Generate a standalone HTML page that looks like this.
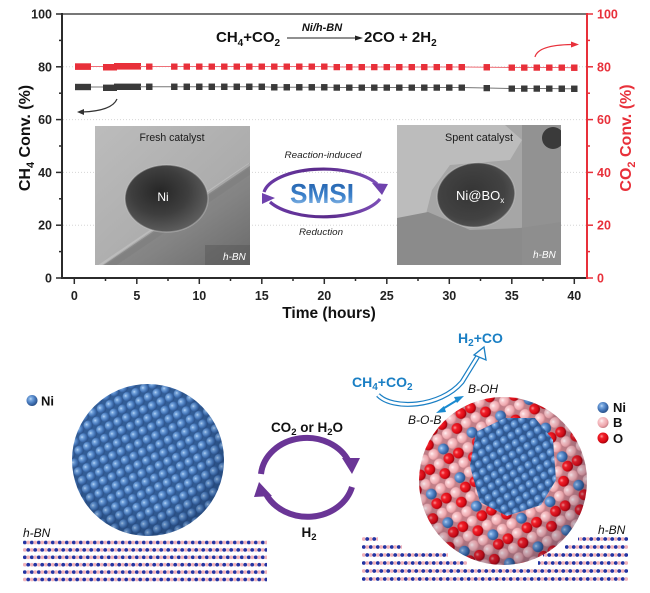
<!DOCTYPE html>
<html><head><meta charset="utf-8">
<style>
html,body{margin:0;padding:0;background:#fff;}
svg{display:block;font-family:"Liberation Sans",Arial,sans-serif;}
</style></head>
<body>
<svg width="650" height="593" viewBox="0 0 650 593" xmlns="http://www.w3.org/2000/svg">
<defs>
  <marker id="mR" markerWidth="6.5" markerHeight="6.5" refX="3.25" refY="3.25" markerUnits="userSpaceOnUse"><rect width="6.5" height="6.5" fill="#e8303a"/></marker>
  <marker id="mK" markerWidth="6.5" markerHeight="6.5" refX="3.25" refY="3.25" markerUnits="userSpaceOnUse"><rect width="6.5" height="6.5" fill="#3a3a3a"/></marker>
  <linearGradient id="tL" x1="0" y1="0" x2="1" y2="1"><stop offset="0" stop-color="#bcbcbc"/><stop offset="1" stop-color="#a2a2a2"/></linearGradient>
  <linearGradient id="supL" x1="0" y1="0" x2="1" y2="1"><stop offset="0" stop-color="#9a9a9a"/><stop offset="0.6" stop-color="#848484"/><stop offset="1" stop-color="#686868"/></linearGradient>
  <radialGradient id="pL" cx="0.42" cy="0.4" r="0.62"><stop offset="0" stop-color="#262626"/><stop offset="0.55" stop-color="#3e3e3e"/><stop offset="1" stop-color="#5e5e5e"/></radialGradient>
  <radialGradient id="pR" cx="0.45" cy="0.45" r="0.6"><stop offset="0" stop-color="#353535"/><stop offset="0.7" stop-color="#424242"/><stop offset="1" stop-color="#565656"/></radialGradient>
  <linearGradient id="smsi" x1="0" y1="0" x2="0" y2="1"><stop offset="0" stop-color="#1d5aa6"/><stop offset="0.6" stop-color="#3f84cc"/><stop offset="1" stop-color="#a9cdf0"/></linearGradient>
  <linearGradient id="purp" x1="0" y1="0" x2="1" y2="0"><stop offset="0" stop-color="#6a3aa5"/><stop offset="0.5" stop-color="#5a2a8a"/><stop offset="1" stop-color="#7d4fb8"/></linearGradient>
  <radialGradient id="gNi" cx="0.38" cy="0.35" r="0.65"><stop offset="0" stop-color="#c4ddf8"/><stop offset="0.22" stop-color="#7aa9e0"/><stop offset="0.62" stop-color="#4678bb"/><stop offset="1" stop-color="#2b5189"/></radialGradient>
  <radialGradient id="gP" cx="0.38" cy="0.35" r="0.65"><stop offset="0" stop-color="#fff4f5"/><stop offset="0.3" stop-color="#f8c8cc"/><stop offset="0.75" stop-color="#eea7ad"/><stop offset="1" stop-color="#c98088"/></radialGradient>
  <radialGradient id="gR" cx="0.38" cy="0.35" r="0.65"><stop offset="0" stop-color="#ff9a9a"/><stop offset="0.3" stop-color="#f0202a"/><stop offset="0.75" stop-color="#dc0a14"/><stop offset="1" stop-color="#a0000c"/></radialGradient>
  <radialGradient id="shade" cx="0.45" cy="0.42" r="0.58"><stop offset="0.7" stop-color="#001030" stop-opacity="0"/><stop offset="1" stop-color="#001030" stop-opacity="0.25"/></radialGradient>
  <pattern id="patNi" patternUnits="userSpaceOnUse" width="9.5" height="9.5" patternTransform="rotate(-25)">
    <rect width="9.5" height="9.5" fill="#325d96"/><circle cx="4.75" cy="4.75" r="4.7" fill="url(#gNi)"/>
  </pattern>
  <pattern id="patNi2" patternUnits="userSpaceOnUse" width="8.5" height="8.5" patternTransform="rotate(-30)">
    <rect width="8.5" height="8.5" fill="#2f5890"/><circle cx="4.25" cy="4.25" r="4.2" fill="url(#gNi)"/>
  </pattern>
  <pattern id="patMix" patternUnits="userSpaceOnUse" width="33" height="33" patternTransform="rotate(-30)">
    <rect width="33" height="33" fill="#c27f88"/>
    <circle cx="5.5" cy="5.5" r="5.4" fill="url(#gP)"/><circle cx="16.5" cy="5.5" r="5.4" fill="url(#gR)"/><circle cx="27.5" cy="5.5" r="5.4" fill="url(#gP)"/>
    <circle cx="5.5" cy="16.5" r="5.4" fill="url(#gP)"/><circle cx="16.5" cy="16.5" r="5.4" fill="url(#gP)"/><circle cx="27.5" cy="16.5" r="5.4" fill="url(#gNi)"/>
    <circle cx="5.5" cy="27.5" r="5.4" fill="url(#gR)"/><circle cx="16.5" cy="27.5" r="5.4" fill="url(#gP)"/><circle cx="27.5" cy="27.5" r="5.4" fill="url(#gR)"/>
  </pattern>
  <pattern id="bnL" patternUnits="userSpaceOnUse" x="23" y="538.8" width="7" height="14.8">
    <line x1="0" y1="3.7" x2="7" y2="3.7" stroke="#2a3f9a" stroke-width="1.1"/>
    <circle cx="1.75" cy="3.7" r="1.9" fill="#2334a2"/><circle cx="5.25" cy="3.7" r="1.9" fill="#f0b2ba"/>
    <line x1="0" y1="11.1" x2="7" y2="11.1" stroke="#2a3f9a" stroke-width="1.1"/>
    <circle cx="1.75" cy="11.1" r="1.9" fill="#f0b2ba"/><circle cx="5.25" cy="11.1" r="1.9" fill="#2334a2"/>
  </pattern>
  <pattern id="bnR" patternUnits="userSpaceOnUse" x="362" y="535" width="7" height="16">
    <line x1="0" y1="4" x2="7" y2="4" stroke="#2a3f9a" stroke-width="1.1"/>
    <circle cx="1.75" cy="4" r="1.9" fill="#f0b2ba"/><circle cx="5.25" cy="4" r="1.9" fill="#2334a2"/>
    <line x1="0" y1="12" x2="7" y2="12" stroke="#2a3f9a" stroke-width="1.1"/>
    <circle cx="1.75" cy="12" r="1.9" fill="#2334a2"/><circle cx="5.25" cy="12" r="1.9" fill="#f0b2ba"/>
  </pattern>
  <clipPath id="clipL"><rect x="95" y="126" width="155" height="139"/></clipPath>
  <clipPath id="clipR"><rect x="397" y="125" width="164" height="140"/></clipPath>
  <clipPath id="cNi"><circle cx="148" cy="460" r="76"/></clipPath>
  <clipPath id="cMix"><circle cx="503" cy="481" r="84"/></clipPath>
</defs>

<!-- ===== Chart ===== -->
<g stroke="#d6d6d6" stroke-width="1" stroke-dasharray="1,2">
  <line x1="63" y1="66.8" x2="586" y2="66.8"/>
  <line x1="63" y1="119.6" x2="586" y2="119.6"/>
  <line x1="63" y1="172.4" x2="586" y2="172.4"/>
  <line x1="63" y1="225.2" x2="586" y2="225.2"/>
</g>
<line x1="62" y1="14" x2="587" y2="14" stroke="#4a4a4a" stroke-width="1.5"/>
<line x1="62" y1="13" x2="62" y2="279" stroke="#2b2b2b" stroke-width="2"/>
<line x1="61" y1="278" x2="587" y2="278" stroke="#2b2b2b" stroke-width="2"/>
<line x1="587" y1="13" x2="587" y2="279" stroke="#e8303a" stroke-width="2"/>
<g stroke="#2b2b2b" stroke-width="1.5">
  <line x1="56" y1="14" x2="62" y2="14"/><line x1="56" y1="66.8" x2="62" y2="66.8"/><line x1="56" y1="119.6" x2="62" y2="119.6"/>
  <line x1="56" y1="172.4" x2="62" y2="172.4"/><line x1="56" y1="225.2" x2="62" y2="225.2"/><line x1="56" y1="278" x2="62" y2="278"/>
  <line x1="59" y1="40.4" x2="62" y2="40.4"/><line x1="59" y1="93.2" x2="62" y2="93.2"/><line x1="59" y1="146" x2="62" y2="146"/>
  <line x1="59" y1="198.8" x2="62" y2="198.8"/><line x1="59" y1="251.6" x2="62" y2="251.6"/>
</g>
<g stroke="#e8303a" stroke-width="1.5">
  <line x1="587" y1="14" x2="593" y2="14"/><line x1="587" y1="66.8" x2="593" y2="66.8"/><line x1="587" y1="119.6" x2="593" y2="119.6"/>
  <line x1="587" y1="172.4" x2="593" y2="172.4"/><line x1="587" y1="225.2" x2="593" y2="225.2"/><line x1="587" y1="278" x2="593" y2="278"/>
  <line x1="587" y1="40.4" x2="590" y2="40.4"/><line x1="587" y1="93.2" x2="590" y2="93.2"/><line x1="587" y1="146" x2="590" y2="146"/>
  <line x1="587" y1="198.8" x2="590" y2="198.8"/><line x1="587" y1="251.6" x2="590" y2="251.6"/>
</g>
<g stroke="#2b2b2b" stroke-width="1.5">
  <line x1="74.3" y1="278" x2="74.3" y2="284"/><line x1="136.8" y1="278" x2="136.8" y2="284"/><line x1="199.3" y1="278" x2="199.3" y2="284"/>
  <line x1="261.8" y1="278" x2="261.8" y2="284"/><line x1="324.3" y1="278" x2="324.3" y2="284"/><line x1="386.8" y1="278" x2="386.8" y2="284"/>
  <line x1="449.3" y1="278" x2="449.3" y2="284"/><line x1="511.8" y1="278" x2="511.8" y2="284"/><line x1="574.3" y1="278" x2="574.3" y2="284"/>
  <line x1="105.5" y1="278" x2="105.5" y2="281"/><line x1="168" y1="278" x2="168" y2="281"/><line x1="230.5" y1="278" x2="230.5" y2="281"/>
  <line x1="293" y1="278" x2="293" y2="281"/><line x1="355.5" y1="278" x2="355.5" y2="281"/><line x1="418" y1="278" x2="418" y2="281"/>
  <line x1="480.5" y1="278" x2="480.5" y2="281"/><line x1="543" y1="278" x2="543" y2="281"/>
</g>
<g font-size="12.5" font-weight="bold" fill="#222" text-anchor="end">
  <text x="52" y="18.5">100</text><text x="52" y="71.3">80</text><text x="52" y="124.1">60</text>
  <text x="52" y="176.9">40</text><text x="52" y="229.7">20</text><text x="52" y="282.5">0</text>
</g>
<g font-size="12.5" font-weight="bold" fill="#e8303a">
  <text x="597" y="18.5">100</text><text x="597" y="71.3">80</text><text x="597" y="124.1">60</text>
  <text x="597" y="176.9">40</text><text x="597" y="229.7">20</text><text x="597" y="282.5">0</text>
</g>
<g font-size="12.5" font-weight="bold" fill="#222" text-anchor="middle">
  <text x="74.3" y="300">0</text><text x="136.8" y="300">5</text><text x="199.3" y="300">10</text>
  <text x="261.8" y="300">15</text><text x="324.3" y="300">20</text><text x="386.8" y="300">25</text>
  <text x="449.3" y="300">30</text><text x="511.8" y="300">35</text><text x="574.3" y="300">40</text>
</g>
<text x="329" y="318" font-size="15.5" font-weight="bold" fill="#111" text-anchor="middle">Time (hours)</text>
<text transform="translate(30,138) rotate(-90)" text-anchor="middle" font-size="16" font-weight="bold" fill="#111">CH<tspan dy="4" font-size="11">4</tspan><tspan dy="-4"> Conv. (%)</tspan></text>
<text transform="translate(631,138) rotate(-90)" text-anchor="middle" font-size="16" font-weight="bold" fill="#e8303a">CO<tspan dy="4" font-size="11">2</tspan><tspan dy="-4"> Conv. (%)</tspan></text>

<text x="216" y="42" font-size="15" font-weight="bold" fill="#111">CH<tspan font-size="10" dy="4">4</tspan><tspan dy="-4">+CO</tspan><tspan font-size="10" dy="4">2</tspan></text>
<line x1="287" y1="38" x2="358" y2="38" stroke="#222" stroke-width="1"/>
<polygon points="355,35.5 363,38 355,40.5" fill="#222"/>
<text x="322" y="31" font-size="11" font-weight="bold" font-style="italic" fill="#111" text-anchor="middle">Ni/h-BN</text>
<text x="364" y="42" font-size="15" font-weight="bold" fill="#111">2CO + 2H<tspan font-size="10" dy="4">2</tspan></text>

<line x1="90" y1="66.5" x2="104" y2="66.5" stroke="#ef7078" stroke-width="1"/>
<rect x="75" y="63.3" width="16" height="6.6" fill="#e8303a"/>
<rect x="103" y="64" width="14" height="6.5" fill="#e8303a"/>
<rect x="114" y="63" width="27" height="6.6" fill="#e8303a"/>
<polyline fill="none" stroke="#ef7078" stroke-width="1" marker-mid="url(#mR)" marker-end="url(#mR)"
 points="140,66.5 149.3,66.5 174.3,66.5 186.8,66.5 199.3,66.5 211.8,66.5 224.3,66.5 236.8,66.5 249.3,66.5 261.8,66.5 274.3,66.5 286.8,66.5 299.3,66.5 311.8,66.5 324.3,66.5 336.8,67 349.3,67 361.8,67 374.3,67 386.8,67 399.3,67 411.8,67 424.3,67 436.8,67 449.3,67 461.8,67 486.8,67.3 511.8,67.5 524.3,67.5 536.8,67.5 549.3,67.5 561.8,67.5 574.3,67.7"/>
<line x1="90" y1="87" x2="104" y2="87" stroke="#777" stroke-width="1"/>
<rect x="75" y="83.8" width="16" height="6.4" fill="#3a3a3a"/>
<rect x="103" y="84.6" width="14" height="6.4" fill="#3a3a3a"/>
<rect x="114" y="83.6" width="27" height="6.4" fill="#3a3a3a"/>
<polyline fill="none" stroke="#777" stroke-width="1" marker-mid="url(#mK)" marker-end="url(#mK)"
 points="140,86.8 149.3,86.8 174.3,86.8 186.8,86.8 199.3,86.8 211.8,86.8 224.3,86.8 236.8,86.8 249.3,86.8 261.8,86.8 274.3,87.3 286.8,87.3 299.3,87.3 311.8,87.3 324.3,87.3 336.8,87.5 349.3,87.5 361.8,87.5 374.3,87.5 386.8,87.5 399.3,87.5 411.8,87.5 424.3,87.5 436.8,87.5 449.3,87.5 461.8,87.5 486.8,88 511.8,88.5 524.3,88.5 536.8,88.5 549.3,88.5 561.8,88.7 574.3,88.8"/>

<path d="M117,99 Q112,111 82,112" fill="none" stroke="#333" stroke-width="1.2"/>
<polygon points="77,112 84,109 84,115" fill="#333"/>
<path d="M535,57 Q538,45 572,44.5" fill="none" stroke="#e8303a" stroke-width="1.2"/>
<polygon points="579,44.5 571,41.5 571,47.5" fill="#e8303a"/>

<!-- Left TEM -->
<g clip-path="url(#clipL)">
  <rect x="95" y="126" width="155" height="139" fill="url(#tL)"/>
  <polygon points="95,270 250,163 250,265 95,265" fill="url(#supL)"/>
  <line x1="95" y1="269" x2="250" y2="164" stroke="#cfcfcf" stroke-width="3" opacity="0.45"/>
  <line x1="95" y1="276" x2="250" y2="171" stroke="#7a7a7a" stroke-width="6" opacity="0.4"/>
  <rect x="205" y="245" width="45" height="20" fill="#555" opacity="0.45"/>
  <ellipse cx="166.5" cy="198.5" rx="41.5" ry="33.5" fill="url(#pL)" stroke="#cfcfcf" stroke-width="1.5" stroke-opacity="0.4"/>
  <text x="172" y="141" font-size="11" fill="#1a1a1a" text-anchor="middle" textLength="65" lengthAdjust="spacingAndGlyphs">Fresh catalyst</text>
  <text x="163" y="201" font-size="12" fill="#fff" text-anchor="middle">Ni</text>
  <text x="223" y="260" font-size="10" font-style="italic" fill="#fff">h-BN</text>
</g>

<!-- Right TEM -->
<g clip-path="url(#clipR)">
  <rect x="397" y="125" width="164" height="140" fill="#a6a6a6"/>
  <polygon points="397,125 505,125 522,140 510,160 450,165 432,190 426,214 397,222" fill="#c0c0c0" opacity="0.85"/>
  <polygon points="397,218 428,212 470,230 520,228 561,222 561,265 397,265" fill="#8b8b8b"/>
  <rect x="522" y="125" width="39" height="140" fill="#8e8e8e" opacity="0.85"/>
  <circle cx="553" cy="138" r="11" fill="#3a3a3a"/>
  <ellipse cx="476" cy="195" rx="39" ry="32" transform="rotate(-8 476 195)" fill="url(#pR)" stroke="#cfcfcf" stroke-width="1.5" stroke-opacity="0.4"/>
  <text x="479" y="141" font-size="11" fill="#1a1a1a" text-anchor="middle" textLength="68" lengthAdjust="spacingAndGlyphs">Spent catalyst</text>
  <text x="456" y="200" font-size="13" fill="#fff">Ni@BO<tspan font-size="8" dy="3">x</tspan></text>
  <text x="533" y="258" font-size="10" font-style="italic" fill="#fff">h-BN</text>
</g>

<!-- SMSI -->
<text x="323" y="158" font-size="9.5" font-style="italic" fill="#222" text-anchor="middle" textLength="77" lengthAdjust="spacingAndGlyphs">Reaction-induced</text>
<text x="321" y="235" font-size="9.5" font-style="italic" fill="#222" text-anchor="middle" textLength="44" lengthAdjust="spacingAndGlyphs">Reduction</text>
<path d="M264,192 A60,27 0 0 1 377,184" fill="none" stroke="url(#purp)" stroke-width="3.2"/>
<polygon points="372,183 388,184 382,195" fill="#6f42ad"/>
<path d="M380,199 A60,27 0 0 1 270,202" fill="none" stroke="url(#purp)" stroke-width="3.2"/>
<polygon points="262,193 275,198 262,204" fill="#6f42ad"/>
<text x="322" y="203" font-size="28" font-weight="bold" fill="url(#smsi)" text-anchor="middle" textLength="64" lengthAdjust="spacingAndGlyphs">SMSI</text>

<!-- ===== Bottom schematic ===== -->
<circle cx="32" cy="400.5" r="5.5" fill="url(#gNi)"/>
<text x="41" y="405.5" font-size="13" font-weight="bold" fill="#111">Ni</text>

<text x="23" y="537" font-size="12" font-style="italic" fill="#111">h-BN</text>
<rect x="23" y="538.8" width="244" height="44.4" fill="url(#bnL)"/>

<g clip-path="url(#cNi)"><rect x="70" y="382" width="156" height="156" fill="url(#patNi)"/></g>
<circle cx="148" cy="460" r="76" fill="url(#shade)"/>

<text x="307" y="432" font-size="13.5" font-weight="bold" fill="#111" text-anchor="middle">CO<tspan font-size="9.5" dy="3">2</tspan><tspan dy="-3"> or H</tspan><tspan font-size="9.5" dy="3">2</tspan><tspan dy="-3">O</tspan></text>
<path d="M261,474 A46,40 0 0 1 349,462" fill="none" stroke="#6a3596" stroke-width="6"/>
<polygon points="342,458 360,458 352,474" fill="#6a3596"/>
<path d="M352,487 A46,40 0 0 1 266,494" fill="none" stroke="#6a3596" stroke-width="6"/>
<polygon points="259,482 254,497 272,496" fill="#6a3596"/>
<text x="309" y="537" font-size="13.5" font-weight="bold" fill="#111" text-anchor="middle">H<tspan font-size="9.5" dy="3">2</tspan></text>

<g fill="url(#bnR)">
  <rect x="362" y="535" width="16" height="8"/><rect x="578" y="535" width="50" height="8"/>
  <rect x="362" y="543" width="40" height="8"/><rect x="565" y="543" width="63" height="8"/>
  <rect x="362" y="551" width="86" height="8"/><rect x="543" y="551" width="85" height="8"/>
  <rect x="362" y="559" width="105" height="8"/><rect x="538" y="559" width="90" height="8"/>
  <rect x="362" y="567" width="266" height="16"/>
</g>
<text x="598" y="534" font-size="12" font-style="italic" fill="#111">h-BN</text>

<g clip-path="url(#cMix)"><rect x="418" y="396" width="170" height="170" fill="url(#patMix)"/></g>
<polygon points="476,432 505,418 535,418 553,440 556,480 541,505 507,516 480,502 470,466" fill="url(#patNi2)"/>
<circle cx="503" cy="481" r="84" fill="url(#shade)"/>

<circle cx="603" cy="407.5" r="5.5" fill="url(#gNi)"/>
<circle cx="603" cy="422.5" r="5.5" fill="url(#gP)"/>
<circle cx="603" cy="438" r="5.5" fill="url(#gR)"/>
<g font-size="13" font-weight="bold" fill="#111">
  <text x="613" y="412">Ni</text><text x="613" y="427">B</text><text x="613" y="443">O</text>
</g>

<text x="458" y="343" font-size="14" font-weight="bold" fill="#1a7fc4">H<tspan font-size="10" dy="3">2</tspan><tspan dy="-3">+CO</tspan></text>
<text x="352" y="387" font-size="14" font-weight="bold" fill="#1a7fc4">CH<tspan font-size="10" dy="3">4</tspan><tspan dy="-3">+CO</tspan><tspan font-size="10" dy="3">2</tspan></text>
<path d="M378,395 C392,410 440,408 462,382 L478,356" fill="none" stroke="#1a7fc4" stroke-width="5"/>
<path d="M378,395 C392,410 440,408 462,382 L478,356" fill="none" stroke="#fff" stroke-width="2.6"/>
<polygon points="484,347 486,360 474,355" fill="#fff" stroke="#1a7fc4" stroke-width="1.3"/>
<line x1="441" y1="410" x2="459" y2="399" stroke="#1a8ad0" stroke-width="2"/>
<polygon points="436,413 444,406 446,412" fill="#1a8ad0"/>
<polygon points="464,396 454,397 457,403" fill="#1a8ad0"/>
<text x="468" y="393" font-size="12" font-style="italic" fill="#111">B-OH</text>
<text x="408" y="424" font-size="12" font-style="italic" fill="#111">B-O-B</text>
</svg>
</body></html>
